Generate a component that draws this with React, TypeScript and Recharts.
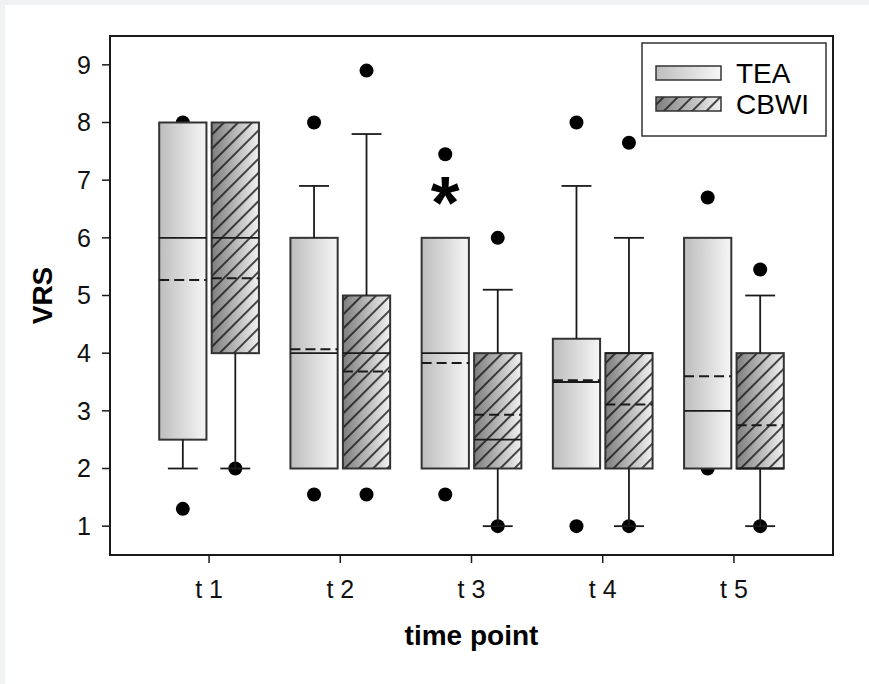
import React from "react";
import {
  ComposedChart,
  XAxis,
  YAxis,
  ReferenceArea,
  ReferenceLine,
  ReferenceDot,
  Label,
} from "recharts";

const TIME_POINTS = ["t 1", "t 2", "t 3", "t 4", "t 5"];
const Y_TICKS = [1, 2, 3, 4, 5, 6, 7, 8, 9];

// TEA
const TEA_LOW = [2, 2, 2, 2, 2];
const TEA_Q1 = [2.5, 2, 2, 2, 2];
const TEA_MEDIAN = [6, 4, 4, 3.5, 3];
const TEA_MEAN = [5.27, 4.07, 3.83, 3.53, 3.6];
const TEA_Q3 = [8, 6, 6, 4.25, 6];
const TEA_HIGH = [8, 6.9, 6, 6.9, 6];
const TEA_OUTLIERS = [[8, 1.3], [8, 1.55], [7.45, 1.55], [8, 1], [6.7, 2]];

// CBWI
const CBWI_LOW = [2, 2, 1, 1, 1];
const CBWI_Q1 = [4, 2, 2, 2, 2];
const CBWI_MEDIAN = [6, 4, 2.5, 4, 2];
const CBWI_MEAN = [5.3, 3.68, 2.93, 3.11, 2.75];
const CBWI_Q3 = [8, 5, 4, 4, 4];
const CBWI_HIGH = [8, 7.8, 5.1, 6, 5];
const CBWI_OUTLIERS = [[2], [8.9, 1.55], [6, 1], [7.65, 1], [5.45, 1]];

// significance marks (time point, height)
const STARS = [{ point: 3, y: 6.83 }];

const FONT = '"Liberation Sans", Arial, sans-serif';
const INK = "#1a1a1a";
const HALF_BOX = 0.18;
const HALF_CAP = 0.114;
const EPS = 0.001;

const GROUPS = [
  { name: "TEA", offset: -0.2, low: TEA_LOW, q1: TEA_Q1, median: TEA_MEDIAN, mean: TEA_MEAN, q3: TEA_Q3, high: TEA_HIGH, outliers: TEA_OUTLIERS, grad: "teaGrad", hatch: false },
  { name: "CBWI", offset: 0.2, low: CBWI_LOW, q1: CBWI_Q1, median: CBWI_MEDIAN, mean: CBWI_MEAN, q3: CBWI_Q3, high: CBWI_HIGH, outliers: CBWI_OUTLIERS, grad: "cbwiGrad", hatch: true },
];

function boxShape(grad: string, hatch: boolean) {
  return (p: any) => (
    <g>
      <rect x={p.x} y={p.y} width={p.width} height={p.height} fill={`url(#${grad})`} />
      {hatch && <rect x={p.x} y={p.y} width={p.width} height={p.height} fill="url(#hatch)" />}
      <rect x={p.x} y={p.y} width={p.width} height={p.height} fill="none" stroke="#333" strokeWidth={2} />
    </g>
  );
}

// outlier marker drawn in the reference-area layer so the boxes can cover it
function outlierShape(p: any) {
  return <circle cx={p.x + p.width / 2} cy={p.y + p.height / 2} r={7} fill="#000" />;
}

function Star(p: any) {
  return (
    <text x={p.cx} y={p.cy + 38} textAnchor="middle" fontSize={74} fontWeight="bold" fontFamily={FONT} fill="#000">
      *
    </text>
  );
}

function ChartLegend() {
  return (
    <div style={{ position: "absolute", left: 641, top: 42 }}>
      <svg width={186} height={95}>
        <defs>
          <linearGradient id="legTea" x1="0" y1="0" x2="1" y2="0">
            <stop offset="0%" stopColor="#bdbdbd" />
            <stop offset="100%" stopColor="#f6f6f6" />
          </linearGradient>
          <linearGradient id="legCbwi" x1="0" y1="0" x2="1" y2="0">
            <stop offset="0%" stopColor="#7d7d7d" />
            <stop offset="100%" stopColor="#f2f2f2" />
          </linearGradient>
          <pattern id="legHatch" patternUnits="userSpaceOnUse" width="10" height="10" patternTransform="rotate(45)">
            <line x1="5" y1="0" x2="5" y2="10" stroke="#111" strokeWidth="1.5" />
          </pattern>
        </defs>
        <rect x={1} y={1} width={184} height={93} fill="#fff" stroke="#333" strokeWidth={1.5} />
        {GROUPS.map((g, i) => (
          <g key={g.name}>
            <rect x={15} y={24 + i * 31} width={65} height={14} fill={g.hatch ? "url(#legCbwi)" : "url(#legTea)"} />
            {g.hatch && <rect x={15} y={24 + i * 31} width={65} height={14} fill="url(#legHatch)" />}
            <rect x={15} y={24 + i * 31} width={65} height={14} fill="none" stroke="#333" strokeWidth={1.5} />
            <text x={95} y={41 + i * 31} fontSize={28} fontFamily={FONT} fill="#000">
              {g.name}
            </text>
          </g>
        ))}
      </svg>
    </div>
  );
}

export default function App() {
  return (
    <div style={{ position: "fixed", inset: 0, background: "#eff1f3" }}>
      <div style={{ position: "absolute", left: 5, top: 5, right: 0, bottom: 0, background: "#fff" }} />
      <div style={{ position: "absolute", left: 0, top: 0 }}>
        <ComposedChart width={869} height={684} margin={{ top: 36, right: 36, left: 10, bottom: 69 }}>
          <defs>
            <linearGradient id="teaGrad" x1="0" y1="0" x2="1" y2="0">
              <stop offset="0%" stopColor="#bdbdbd" />
              <stop offset="100%" stopColor="#f6f6f6" />
            </linearGradient>
            <linearGradient id="cbwiGrad" x1="0" y1="0" x2="1" y2="0">
              <stop offset="0%" stopColor="#7d7d7d" />
              <stop offset="100%" stopColor="#f2f2f2" />
            </linearGradient>
            <pattern id="hatch" patternUnits="userSpaceOnUse" width="10" height="10" patternTransform="rotate(45)">
              <line x1="5" y1="0" x2="5" y2="10" stroke="#111" strokeWidth="1.5" />
            </pattern>
          </defs>
          <XAxis
            type="number"
            dataKey="x"
            domain={[0.245, 5.755]}
            ticks={[1, 2, 3, 4, 5]}
            tickFormatter={(v) => TIME_POINTS[v - 1]}
            height={60}
            tickSize={8}
            tickMargin={17}
            tick={{ fontSize: 25, fill: "#111", fontFamily: FONT }}
            axisLine={{ stroke: INK, strokeWidth: 2 }}
            tickLine={{ stroke: INK, strokeWidth: 1.5 }}
            allowDataOverflow
          >
            <Label value="time point" position="bottom" offset={10} fontSize={28} fontWeight="bold" fontFamily={FONT} fill="#000" />
          </XAxis>
          <YAxis
            type="number"
            dataKey="y"
            domain={[0.5, 9.5]}
            ticks={Y_TICKS}
            width={100}
            tickSize={8}
            tickMargin={11}
            tick={{ fontSize: 25, fill: "#111", fontFamily: FONT }}
            axisLine={{ stroke: INK, strokeWidth: 2 }}
            tickLine={{ stroke: INK, strokeWidth: 1.5 }}
            allowDataOverflow
          >
            <Label
              content={(p: any) => (
                <text
                  x={42}
                  y={p.viewBox.y + p.viewBox.height / 2}
                  transform={`rotate(-90 42 ${p.viewBox.y + p.viewBox.height / 2})`}
                  textAnchor="middle"
                  dominantBaseline="central"
                  fontSize={28}
                  fontWeight="bold"
                  fontFamily={FONT}
                  fill="#000"
                >
                  VRS
                </text>
              )}
            />
          </YAxis>

          {/* frame */}
          <ReferenceArea x1={0.245} x2={5.755} y1={0.5} y2={9.5} fill="none" stroke={INK} strokeWidth={2} ifOverflow="visible" />

          {/* outliers, drawn before the boxes so the boxes cover them */}
          {GROUPS.flatMap((g) =>
            g.outliers.flatMap((vals, i) =>
              vals.map((v, k) => {
                const cx = i + 1 + g.offset;
                return (
                  <ReferenceArea
                    key={`${g.name}o${i}-${k}`}
                    x1={cx - EPS}
                    x2={cx + EPS}
                    y1={v - EPS}
                    y2={v + EPS}
                    shape={outlierShape}
                  />
                );
              })
            )
          )}

          {/* boxes */}
          {GROUPS.flatMap((g) =>
            TIME_POINTS.map((_, i) => {
              const cx = i + 1 + g.offset;
              return (
                <ReferenceArea
                  key={`${g.name}box${i}`}
                  x1={cx - HALF_BOX}
                  x2={cx + HALF_BOX}
                  y1={g.q1[i]}
                  y2={g.q3[i]}
                  shape={boxShape(g.grad, g.hatch)}
                />
              );
            })
          )}

          {/* whiskers and caps */}
          {GROUPS.flatMap((g) =>
            TIME_POINTS.flatMap((_, i) => {
              const cx = i + 1 + g.offset;
              const out = [];
              if (g.high[i] > g.q3[i]) {
                out.push(<ReferenceLine key={`${g.name}hw${i}`} segment={[{ x: cx, y: g.q3[i] }, { x: cx, y: g.high[i] }]} stroke={INK} strokeWidth={1.8} />);
                out.push(<ReferenceLine key={`${g.name}hc${i}`} segment={[{ x: cx - HALF_CAP, y: g.high[i] }, { x: cx + HALF_CAP, y: g.high[i] }]} stroke={INK} strokeWidth={1.8} />);
              }
              if (g.low[i] < g.q1[i]) {
                out.push(<ReferenceLine key={`${g.name}lw${i}`} segment={[{ x: cx, y: g.q1[i] }, { x: cx, y: g.low[i] }]} stroke={INK} strokeWidth={1.8} />);
                out.push(<ReferenceLine key={`${g.name}lc${i}`} segment={[{ x: cx - HALF_CAP, y: g.low[i] }, { x: cx + HALF_CAP, y: g.low[i] }]} stroke={INK} strokeWidth={1.8} />);
              }
              return out;
            })
          )}

          {/* median and mean */}
          {GROUPS.flatMap((g) =>
            TIME_POINTS.flatMap((_, i) => {
              const cx = i + 1 + g.offset;
              return [
                <ReferenceLine key={`${g.name}med${i}`} segment={[{ x: cx - HALF_BOX, y: g.median[i] }, { x: cx + HALF_BOX, y: g.median[i] }]} stroke={INK} strokeWidth={1.8} />,
                <ReferenceLine key={`${g.name}mean${i}`} segment={[{ x: cx - HALF_BOX, y: g.mean[i] }, { x: cx + HALF_BOX, y: g.mean[i] }]} stroke={INK} strokeWidth={2} strokeDasharray="10 5" />,
              ];
            })
          )}

          {STARS.map((s) => (
            <ReferenceDot key={s.point} x={s.point + GROUPS[0].offset} y={s.y} r={0} shape={Star} />
          ))}
        </ComposedChart>
      </div>
      <ChartLegend />
    </div>
  );
}
